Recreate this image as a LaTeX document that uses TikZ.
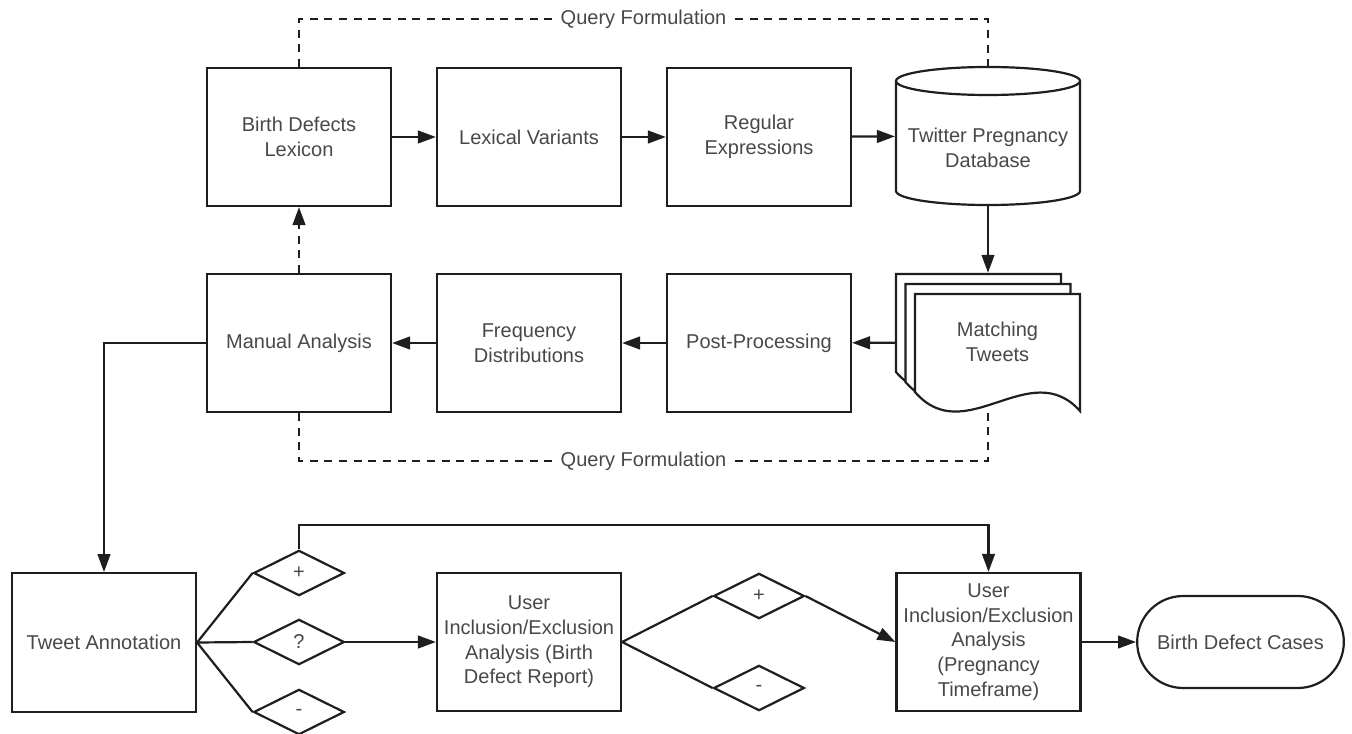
\documentclass[tikz,border=0pt]{standalone}
\usepackage{fontspec}
\setmainfont{Liberation Sans}
\usetikzlibrary{arrows.meta,shapes.geometric}
\definecolor{ink}{HTML}{1E1E1E}
\definecolor{lbl}{HTML}{484848}
\begin{document}
\begin{tikzpicture}[x=0.75pt,y=-0.75pt,
  txt/.style={text=lbl, font=\fontsize{15}{18.5}\selectfont, align=center},
  box/.style={txt, rectangle, draw=ink, line width=1.65pt, minimum width=138pt,
    minimum height=103.5pt, inner sep=2pt},
  dec/.style={txt, diamond, draw=ink, line width=1.65pt, minimum width=68pt,
    minimum height=34pt, inner sep=0pt},
  ghost/.style={rectangle, draw=none, inner sep=0pt, outer sep=0.8pt},
  link/.style={draw=ink, line width=1.65pt},
  arr/.style={link, -{Triangle[length=13.5pt,width=9.5pt]}},
  qline/.style={link, dash pattern=on 6pt off 5pt},
  qlabel/.style={txt, fill=white, inner sep=1pt}]
\useasboundingbox (0,0) rectangle (1352,734);

% ---- query formulation loop, upper row
\node[box] (bdl) at (299,137) {Birth Defects\\Lexicon};
\node[box] (lv)  at (529,137) {Lexical Variants};
\node[box] (re)  at (759,137) {Regular\\Expressions};

% database cylinder
\draw[link, fill=white] (896,81) -- (896,191)
  arc[start angle=180, end angle=0, x radius=92, y radius=14] -- (1080,81);
\draw[link, fill=white] (988,81) ellipse[x radius=92, y radius=14];
\node[ghost, minimum width=138pt, minimum height=103.5pt] (db) at (988,136) {};
\node[txt] (dbtext) at (988,148) {Twitter Pregnancy\\Database};

% ---- lower row of the loop
\node[box] (ma) at (299,343) {Manual Analysis};
\node[box] (fd) at (529,343) {Frequency\\Distributions};
\node[box] (pp) at (759,343) {Post-Processing};

% stack of tweet documents
\foreach \s in {-20,-10,0}{
  \draw[link, fill=white, shift={(0.95*\s,\s)}] (915,294) -- (1080,294) -- (1080,411)
    .. controls (1030,355) and (965,450) .. (915,392) -- cycle;
}
\node[ghost, minimum width=138pt, minimum height=103pt] (tw) at (988,342.5) {};
\node[txt] (twtext) at (997.5,342) {Matching\\Tweets};
\coordinate (wv) at (988,405);

% ---- annotation and user analysis
\node[box, minimum height=104pt] (ta) at (104,642.5) {Tweet Annotation};
\node[dec] (dp) at (299,573) {+};
\node[dec] (dq) at (299,642) {?};
\node[dec] (dm) at (299,712) {-};
\node[box] (ua) at (529,642) {User\\Inclusion/Exclusion\\Analysis (Birth\\Defect Report)};
\node[dec] (ep) at (759,596) {+};
\node[dec] (em) at (759,688) {-};
\node[box] (ub) at (988.5,642) {User\\Inclusion/Exclusion\\Analysis\\(Pregnancy\\Timeframe)};
\node[box, rounded corners=34.5pt, minimum width=155pt, minimum height=69pt] (bdc)
  at (1240.5,642) {Birth Defect Cases};

% ---- connectors
\draw[arr] (bdl) -- (lv);
\draw[arr] (lv) -- (re);
\draw[arr] (re) -- (db);
\draw[arr] (db) -- (tw);
\draw[arr] (tw) -- (pp);
\draw[arr] (pp) -- (fd);
\draw[arr] (fd) -- (ma);
\draw[arr, qline] (ma) -- (bdl);
\draw[qline] (bdl.north) -- ++(0,-48) -| node[pos=0.25, qlabel] {Query Formulation} (db.north);
\draw[qline] (ma.south) -- ++(0,48) -| node[pos=0.25, qlabel] {Query Formulation} (wv);

\draw[arr] (ma.west) -| (ta.north);
\draw[link] (ta.east) -- (dp.west);
\draw[link] (ta.east) -- (dq.west);
\draw[link] (ta.east) -- (dm.west);
\draw[arr] (dp.north) -- ++(0,-24) -| (ub.north);
\draw[arr] (dq) -- (ua);
\draw[link] (ua.east) -- (ep.west);
\draw[link] (ua.east) -- (em.west);
\draw[arr] (ep.east) -- (ub.west);
\draw[arr] (ub) -- (bdc);
\end{tikzpicture}
\end{document}
